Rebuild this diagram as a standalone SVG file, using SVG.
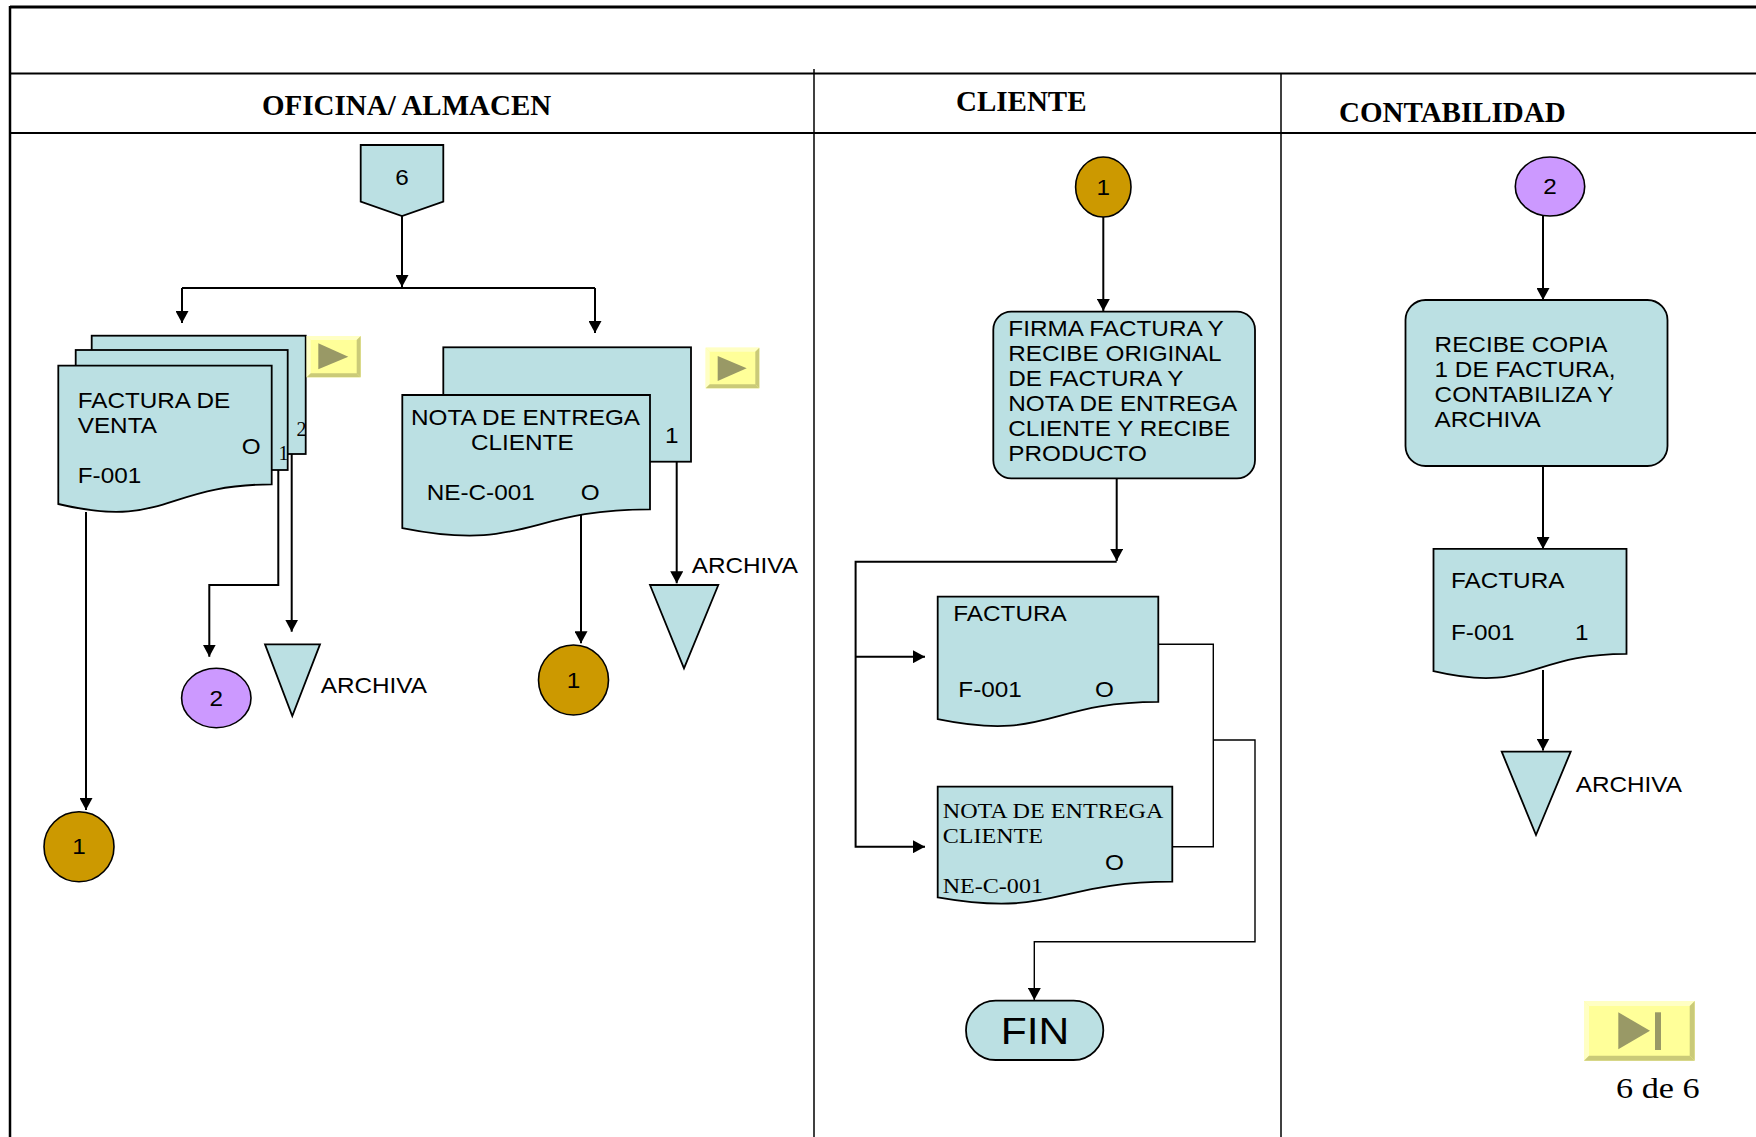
<svg xmlns="http://www.w3.org/2000/svg" width="1756" height="1137" viewBox="0 0 1756 1137">
  <defs>
    <marker id="arrow" viewBox="0 0 12 13" refX="12" refY="6.5" markerWidth="12" markerHeight="13" markerUnits="userSpaceOnUse" orient="auto">
      <path d="M0,0 L12,6.5 L0,13 Z" fill="#000"/>
    </marker>
    <style>
      .frame { stroke: #000; fill: none; }
      .hdr { font-family: "Liberation Serif", "Times New Roman", serif; font-weight: bold; font-size: 29px; fill: #000; }
      .s { font-family: "Liberation Sans", Arial, sans-serif; font-size: 21.5px; fill: #000; }
      .sr { font-family: "Liberation Serif", "Times New Roman", serif; font-size: 21.5px; fill: #000; }
      .big { font-size: 37px; }
      .page { font-size: 29px; }
      .copy { font-size: 20px; }
      .mid { text-anchor: middle; }
      .shape { fill: #BBE0E3; stroke: #000; stroke-width: 1.8; }
      .gold { fill: #CC9900; stroke: #000; stroke-width: 1.6; }
      .lilac { fill: #CC99FF; stroke: #000; stroke-width: 1.6; }
      .conn { fill: none; stroke: #000; stroke-width: 2; }
      .thin { fill: none; stroke: #000; stroke-width: 1.4; }
      .btn { fill: #FFFF99; }
      .btn-hi { fill: #FFFFC4; }
      .btn-lo { fill: #CACA78; }
      .btn-glyph { fill: #999966; }
    </style>
  </defs>

  <!-- page frame and swimlane grid -->
  <g id="frame">
    <line class="frame" x1="10" y1="7" x2="1756" y2="7" stroke-width="3"/>
    <line class="frame" x1="10" y1="6" x2="10" y2="1137" stroke-width="2.5"/>
    <line class="frame" x1="10" y1="73.5" x2="1756" y2="73.5" stroke-width="2"/>
    <line class="frame" x1="10" y1="133" x2="1756" y2="133" stroke-width="2"/>
    <line class="frame" x1="814" y1="69" x2="814" y2="1137" stroke-width="1.5"/>
    <line class="frame" x1="1281" y1="73" x2="1281" y2="1137" stroke-width="1.5"/>
    <text class="hdr" x="262" y="115">OFICINA/ ALMACEN</text>
    <text class="hdr" x="956" y="111">CLIENTE</text>
    <text class="hdr" x="1339" y="122">CONTABILIDAD</text>
  </g>

  <!-- connectors -->
  <g id="connectors">
    <path class="conn" d="M402,216 V287" marker-end="url(#arrow)"/>
    <path class="conn" d="M182,288 H595"/>
    <path class="conn" d="M182,288 V323" marker-end="url(#arrow)"/>
    <path class="conn" d="M595,288 V333" marker-end="url(#arrow)"/>
    <path class="conn" d="M86,512 V810" marker-end="url(#arrow)"/>
    <path class="conn" d="M278.3,470 V585 H209.3 V656.7" marker-end="url(#arrow)"/>
    <path class="conn" d="M291.7,454 V631.7" marker-end="url(#arrow)"/>
    <path class="conn" d="M581,513 V643.3" marker-end="url(#arrow)"/>
    <path class="conn" d="M676.7,461.7 V583.3" marker-end="url(#arrow)"/>
    <path class="conn" d="M1103.3,217 V311" marker-end="url(#arrow)"/>
    <path class="conn" d="M1116.7,478.3 V561" marker-end="url(#arrow)"/>
    <path class="conn" d="M1116.7,561.7 H855.6 V846.7 H925" marker-end="url(#arrow)"/>
    <path class="conn" d="M855.6,656.7 H925" marker-end="url(#arrow)"/>
    <path class="thin" d="M1158.3,644.3 H1213.3 V846.7 H1172.3"/>
    <path class="thin" d="M1213.3,740 H1255 V941.7 H1034.3 V1000" marker-end="url(#arrow)"/>
    <path class="conn" d="M1543,216 V300" marker-end="url(#arrow)"/>
    <path class="conn" d="M1543,466 V549" marker-end="url(#arrow)"/>
    <path class="conn" d="M1543,670 V750.5" marker-end="url(#arrow)"/>
  </g>

  <!-- off-page connector 6 -->
  <g id="offpage-6">
    <polygon class="shape" points="360.7,145 443.3,145 443.3,201.7 402,216 360.7,201.7"/>
    <text class="s mid" transform="translate(402 184.5) scale(1.13 1)">6</text>
  </g>

  <!-- invoice with two copies -->
  <g id="factura-venta">
    <rect class="shape" x="91.7" y="335.7" width="214" height="118.3"/>
    <rect class="shape" x="75.7" y="350" width="212" height="120"/>
    <path class="shape" d="M58.3,365.7 H271.7 V484.4 C165,484.4 165,529.6 58.3,504 Z"/>
    <text class="s" transform="translate(77.7 408) scale(1.13 1)"><tspan x="0">FACTURA DE</tspan><tspan x="0" dy="25">VENTA</tspan></text>
    <text class="s" transform="translate(241.7 454) scale(1.13 1)">O</text>
    <text class="s" transform="translate(77.7 483) scale(1.13 1)">F-001</text>
    <text class="sr copy" x="296.5" y="435.5">2</text>
    <text class="sr copy" x="278.5" y="459.5">1</text>
  </g>

  <g id="btn-next-1">
    <rect class="btn" x="306.7" y="336" width="54" height="41.3"/>
    <polygon class="btn-hi" points="306.7,336 360.7,336 356.7,340 310.7,340"/>
    <polygon class="btn-hi" points="306.7,336 310.7,340 310.7,373.3 306.7,377.3"/>
    <polygon class="btn-lo" points="360.7,336 360.7,377.3 356.7,373.3 356.7,340"/>
    <polygon class="btn-lo" points="306.7,377.3 360.7,377.3 356.7,373.3 310.7,373.3"/>
    <polygon class="btn-glyph" points="318.3,343.3 318.3,369.3 348.3,356.7"/>
  </g>

  <g id="archiva-1">
    <polygon class="shape" points="265,644.3 320,644.3 292.3,716"/>
    <text class="s" transform="translate(320.7 692.7) scale(1.13 1)">ARCHIVA</text>
  </g>

  <g id="conector-2a">
    <ellipse class="lilac" cx="216.3" cy="698" rx="34.7" ry="29.7"/>
    <text class="s mid" transform="translate(216.3 705.5) scale(1.13 1)">2</text>
  </g>

  <g id="conector-1a">
    <circle class="gold" cx="79" cy="846.7" r="35"/>
    <text class="s mid" transform="translate(79 854) scale(1.13 1)">1</text>
  </g>

  <!-- delivery note with one copy -->
  <g id="nota-entrega">
    <rect class="shape" x="443.3" y="347.3" width="247.7" height="114.4"/>
    <text class="s" transform="translate(665 443) scale(1.13 1)">1</text>
    <path class="shape" d="M402.3,395 H650 V509.3 C526.2,509.3 526.2,552.8 402.3,528.1 Z"/>
    <text class="s" transform="translate(411 425) scale(1.13 1)">NOTA DE ENTREGA</text>
    <text class="s" transform="translate(471 450) scale(1.13 1)">CLIENTE</text>
    <text class="s" transform="translate(426.7 500) scale(1.13 1)">NE-C-001</text>
    <text class="s" transform="translate(580.7 500) scale(1.13 1)">O</text>
  </g>

  <g id="btn-next-2">
    <rect class="btn" x="705.7" y="347.7" width="53.6" height="40.6"/>
    <polygon class="btn-hi" points="705.7,347.7 759.3,347.7 755.3,351.7 709.7,351.7"/>
    <polygon class="btn-hi" points="705.7,347.7 709.7,351.7 709.7,384.3 705.7,388.3"/>
    <polygon class="btn-lo" points="759.3,347.7 759.3,388.3 755.3,384.3 755.3,351.7"/>
    <polygon class="btn-lo" points="705.7,388.3 759.3,388.3 755.3,384.3 709.7,384.3"/>
    <polygon class="btn-glyph" points="717.7,356 717.7,381 746.7,368.3"/>
  </g>

  <g id="archiva-2">
    <polygon class="shape" points="650,585 718.3,585 684,668.3"/>
    <text class="s" transform="translate(691.7 573.3) scale(1.13 1)">ARCHIVA</text>
  </g>

  <g id="conector-1b">
    <circle class="gold" cx="573.5" cy="680" r="35"/>
    <text class="s mid" transform="translate(573.5 687.5) scale(1.13 1)">1</text>
  </g>

  <!-- CLIENTE lane -->
  <g id="conector-1c">
    <ellipse class="gold" cx="1103.3" cy="187" rx="27.7" ry="30"/>
    <text class="s mid" transform="translate(1103.3 194.5) scale(1.13 1)">1</text>
  </g>

  <g id="firma-factura">
    <rect class="shape" x="993.3" y="311.7" width="261.7" height="166.6" rx="18"/>
    <text class="s" transform="translate(1008.3 336) scale(1.13 1)"><tspan x="0">FIRMA FACTURA Y</tspan><tspan x="0" dy="25">RECIBE ORIGINAL</tspan><tspan x="0" dy="25">DE FACTURA Y</tspan><tspan x="0" dy="25">NOTA DE ENTREGA</tspan><tspan x="0" dy="25">CLIENTE Y RECIBE</tspan><tspan x="0" dy="25">PRODUCTO</tspan></text>
  </g>

  <g id="factura-cliente">
    <path class="shape" d="M937.7,596.7 H1158.3 V701.8 C1048,701.8 1048,741.8 937.7,719.1 Z"/>
    <text class="s" transform="translate(953.3 620.7) scale(1.13 1)">FACTURA</text>
    <text class="s" transform="translate(958.3 696.7) scale(1.13 1)">F-001</text>
    <text class="s" transform="translate(1095 696.7) scale(1.13 1)">O</text>
  </g>

  <g id="nota-cliente">
    <path class="shape" d="M937.7,786.7 H1172.3 V881.7 C1055,881.7 1055,917.9 937.7,897.4 Z"/>
    <text class="sr" transform="translate(942.7 818.3) scale(1.12 1)" textLength="197" lengthAdjust="spacingAndGlyphs">NOTA DE ENTREGA</text>
    <text class="sr" transform="translate(942.7 843.3) scale(1.12 1)">CLIENTE</text>
    <text class="s" transform="translate(1105 870) scale(1.13 1)">O</text>
    <text class="sr" transform="translate(942.7 893.3) scale(1.12 1)">NE-C-001</text>
  </g>

  <g id="fin">
    <rect class="shape" x="966" y="1000.7" width="137.3" height="59.3" rx="29.6"/>
    <text class="s big mid" transform="translate(1035 1044) scale(1.15 1)">FIN</text>
  </g>

  <!-- CONTABILIDAD lane -->
  <g id="conector-2b">
    <ellipse class="lilac" cx="1550" cy="186.5" rx="34.7" ry="29.5"/>
    <text class="s mid" transform="translate(1550 194) scale(1.13 1)">2</text>
  </g>

  <g id="recibe-copia">
    <rect class="shape" x="1405.5" y="300" width="262" height="166" rx="20"/>
    <text class="s" transform="translate(1434.6 352) scale(1.13 1)"><tspan x="0">RECIBE COPIA</tspan><tspan x="0" dy="25">1 DE FACTURA,</tspan><tspan x="0" dy="25">CONTABILIZA Y</tspan><tspan x="0" dy="25">ARCHIVA</tspan></text>
  </g>

  <g id="factura-copia">
    <path class="shape" d="M1433.5,548.8 H1626.5 V653.9 C1530,653.9 1530,693.9 1433.5,671.2 Z"/>
    <text class="s" transform="translate(1451 588) scale(1.13 1)">FACTURA</text>
    <text class="s" transform="translate(1451 640) scale(1.13 1)">F-001</text>
    <text class="s" transform="translate(1575 640) scale(1.13 1)">1</text>
  </g>

  <g id="archiva-3">
    <polygon class="shape" points="1501.7,751.7 1570.7,751.7 1536,835"/>
    <text class="s" transform="translate(1575.7 791.7) scale(1.13 1)">ARCHIVA</text>
  </g>

  <g id="btn-end">
    <rect class="btn" x="1584" y="1001" width="110.7" height="59.7"/>
    <polygon class="btn-hi" points="1584,1001 1694.7,1001 1689.7,1006 1589,1006"/>
    <polygon class="btn-hi" points="1584,1001 1589,1006 1589,1055.7 1584,1060.7"/>
    <polygon class="btn-lo" points="1694.7,1001 1694.7,1060.7 1689.7,1055.7 1689.7,1006"/>
    <polygon class="btn-lo" points="1584,1060.7 1694.7,1060.7 1689.7,1055.7 1589,1055.7"/>
    <polygon class="btn-glyph" points="1618.3,1012.3 1618.3,1049.3 1650,1030.7"/>
    <rect class="btn-glyph" x="1655" y="1012.3" width="6" height="37.7"/>
  </g>

  <text class="sr page" transform="translate(1616 1098.3) scale(1.18 1)">6 de 6</text>
</svg>
